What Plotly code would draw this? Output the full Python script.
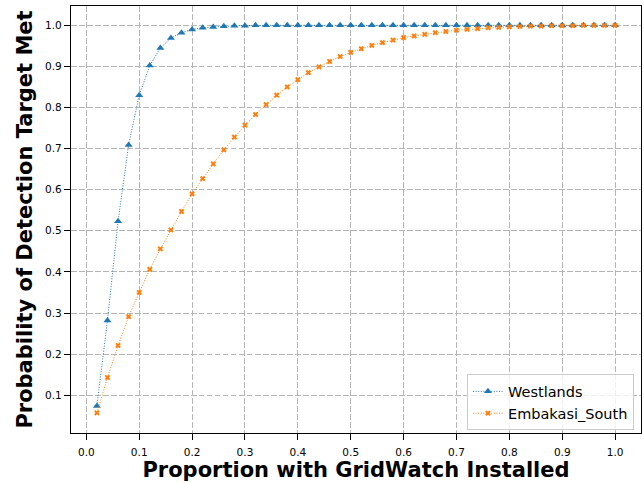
import plotly.graph_objects as go

proportion = [round(0.02 * i, 2) for i in range(1, 51)]

westlands = [0.074, 0.282, 0.523, 0.709, 0.830, 0.902, 0.945, 0.969, 0.982, 0.990,
             0.994, 0.996, 0.998, 0.999, 0.999, 1.0, 1.0, 1.0, 1.0, 1.0,
             1.0, 1.0, 1.0, 1.0, 1.0, 1.0, 1.0, 1.0, 1.0, 1.0,
             1.0, 1.0, 1.0, 1.0, 1.0, 1.0, 1.0, 1.0, 1.0, 1.0,
             1.0, 1.0, 1.0, 1.0, 1.0, 1.0, 1.0, 1.0, 1.0, 1.0]

embakasi_south = [0.057, 0.143, 0.221, 0.291, 0.350, 0.406, 0.456, 0.502, 0.547, 0.590,
                  0.627, 0.663, 0.697, 0.728, 0.757, 0.783, 0.807, 0.830, 0.850, 0.868,
                  0.885, 0.899, 0.912, 0.924, 0.934, 0.943, 0.951, 0.958, 0.964, 0.970,
                  0.974, 0.978, 0.982, 0.985, 0.988, 0.990, 0.992, 0.994, 0.995, 0.996,
                  0.997, 0.998, 0.998, 0.999, 0.999, 0.999, 1.0, 1.0, 1.0, 1.0]

x_ticks = [round(0.1 * i, 1) for i in range(0, 11)]
y_ticks = [round(0.1 * i, 1) for i in range(1, 11)]

FONT = "DejaVu Sans"

fig = go.Figure()
fig.add_trace(go.Scatter(
    x=proportion, y=westlands, name="Westlands", mode="lines+markers",
    line=dict(color="#1f77b4", width=1, dash="1px,1.6px"),
    marker=dict(symbol="triangle-up", size=7, color="#1f77b4"),
))
fig.add_trace(go.Scatter(
    x=proportion, y=embakasi_south, name="Embakasi_South", mode="lines+markers",
    line=dict(color="#ff7f0e", width=1, dash="1px,1.6px"),
    marker=dict(symbol="x", size=5, color="#ff7f0e"),
))

axis_common = dict(
    showline=True, linecolor="black", linewidth=1.3, mirror=True,
    ticks="outside", ticklen=6, tickwidth=1, tickcolor="black",
    showgrid=True, gridcolor="#b5b5b5", gridwidth=1.3, griddash="5.5px,2.5px",
    zeroline=False, tickfont=dict(family=FONT, size=10.5, color="black"),
)

fig.update_xaxes(
    range=[-0.029, 1.049], tickvals=x_ticks, ticktext=[f"{v:.1f}" for v in x_ticks],
    ticklabelstandoff=3,
    title=dict(text="<b>Proportion with GridWatch Installed</b>",
               font=dict(family=FONT, size=21, color="black"), standoff=5),
    **axis_common,
)
fig.update_yaxes(
    range=[0.008, 1.047], tickvals=y_ticks, ticktext=[f"{v:.1f}" for v in y_ticks],
    title=dict(text="<b>Probability of Detection Target Met</b>",
               font=dict(family=FONT, size=21, color="black"), standoff=6),
    **axis_common,
)

fig.update_layout(
    width=644, height=483,
    margin=dict(l=71, r=3, t=6, b=50),
    plot_bgcolor="white", paper_bgcolor="white",
    font=dict(family=FONT, color="black"),
    legend=dict(
        x=0.9877, y=0.006, xanchor="right", yanchor="bottom",
        bgcolor="rgba(255,255,255,0.8)", bordercolor="#cccccc", borderwidth=1,
        font=dict(family=FONT, size=14.5, color="black"),
        tracegroupgap=0,
    ),
)

fig.write_html("out.html")
